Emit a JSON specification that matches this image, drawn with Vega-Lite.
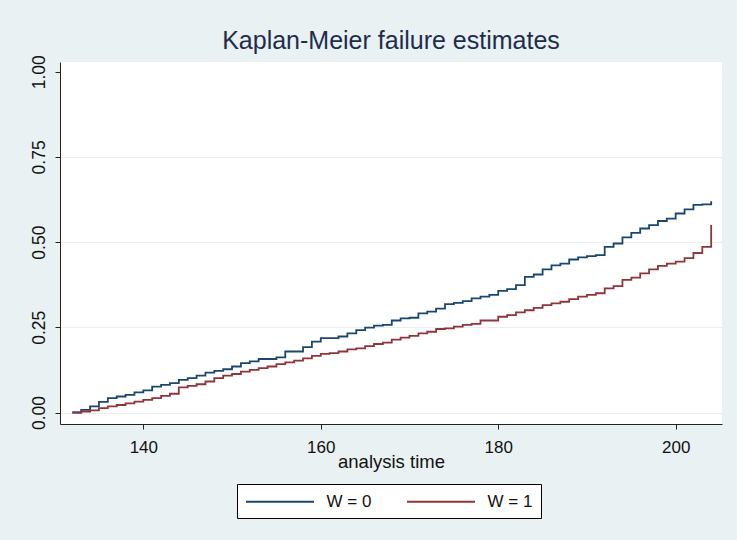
{
  "$schema": "https://vega.github.io/schema/vega-lite/v6.json",
  "width": 662,
  "height": 362,
  "autosize": {"type": "none"},
  "padding": {"left": 60, "top": 62, "right": 15, "bottom": 116},
  "background": "#EAF1F3",
  "title": {"text": "Kaplan-Meier failure estimates", "anchor": "middle", "fontSize": 25, "font": "Liberation Sans", "fontWeight": "normal", "color": "#1E2D4E", "offset": 1},
  "config": {"view": {"fill": "white", "stroke": null}},
  "data": {"values": [
    {"t":132,"g":"W = 0","f":0},{"t":133,"g":"W = 0","f":0.008},{"t":134,"g":"W = 0","f":0.018},{"t":135,"g":"W = 0","f":0.031},{"t":136,"g":"W = 0","f":0.042},{"t":137,"g":"W = 0","f":0.047},{"t":138,"g":"W = 0","f":0.052},{"t":139,"g":"W = 0","f":0.059},{"t":140,"g":"W = 0","f":0.065},{"t":141,"g":"W = 0","f":0.076},{"t":142,"g":"W = 0","f":0.081},{"t":143,"g":"W = 0","f":0.086},{"t":144,"g":"W = 0","f":0.096},{"t":145,"g":"W = 0","f":0.101},{"t":146,"g":"W = 0","f":0.108},{"t":147,"g":"W = 0","f":0.117},{"t":148,"g":"W = 0","f":0.122},{"t":149,"g":"W = 0","f":0.127},{"t":150,"g":"W = 0","f":0.135},{"t":151,"g":"W = 0","f":0.145},{"t":152,"g":"W = 0","f":0.150},{"t":153,"g":"W = 0","f":0.157},{"t":154,"g":"W = 0","f":0.157},{"t":155,"g":"W = 0","f":0.162},{"t":156,"g":"W = 0","f":0.179},{"t":157,"g":"W = 0","f":0.179},{"t":158,"g":"W = 0","f":0.192},{"t":159,"g":"W = 0","f":0.208},{"t":160,"g":"W = 0","f":0.218},{"t":161,"g":"W = 0","f":0.218},{"t":162,"g":"W = 0","f":0.223},{"t":163,"g":"W = 0","f":0.232},{"t":164,"g":"W = 0","f":0.242},{"t":165,"g":"W = 0","f":0.249},{"t":166,"g":"W = 0","f":0.255},{"t":167,"g":"W = 0","f":0.257},{"t":168,"g":"W = 0","f":0.270},{"t":169,"g":"W = 0","f":0.276},{"t":170,"g":"W = 0","f":0.278},{"t":171,"g":"W = 0","f":0.291},{"t":172,"g":"W = 0","f":0.296},{"t":173,"g":"W = 0","f":0.305},{"t":174,"g":"W = 0","f":0.318},{"t":175,"g":"W = 0","f":0.322},{"t":176,"g":"W = 0","f":0.327},{"t":177,"g":"W = 0","f":0.335},{"t":178,"g":"W = 0","f":0.340},{"t":179,"g":"W = 0","f":0.345},{"t":180,"g":"W = 0","f":0.357},{"t":181,"g":"W = 0","f":0.362},{"t":182,"g":"W = 0","f":0.374},{"t":183,"g":"W = 0","f":0.398},{"t":184,"g":"W = 0","f":0.405},{"t":185,"g":"W = 0","f":0.420},{"t":186,"g":"W = 0","f":0.432},{"t":187,"g":"W = 0","f":0.437},{"t":188,"g":"W = 0","f":0.449},{"t":189,"g":"W = 0","f":0.455},{"t":190,"g":"W = 0","f":0.459},{"t":191,"g":"W = 0","f":0.462},{"t":192,"g":"W = 0","f":0.486},{"t":193,"g":"W = 0","f":0.496},{"t":194,"g":"W = 0","f":0.514},{"t":195,"g":"W = 0","f":0.527},{"t":196,"g":"W = 0","f":0.540},{"t":197,"g":"W = 0","f":0.550},{"t":198,"g":"W = 0","f":0.562},{"t":199,"g":"W = 0","f":0.569},{"t":200,"g":"W = 0","f":0.584},{"t":201,"g":"W = 0","f":0.596},{"t":202,"g":"W = 0","f":0.609},{"t":203,"g":"W = 0","f":0.611},{"t":204,"g":"W = 0","f":0.620},
    {"t":132,"g":"W = 1","f":0},{"t":133,"g":"W = 1","f":0.003},{"t":134,"g":"W = 1","f":0.006},{"t":135,"g":"W = 1","f":0.013},{"t":136,"g":"W = 1","f":0.018},{"t":137,"g":"W = 1","f":0.022},{"t":138,"g":"W = 1","f":0.027},{"t":139,"g":"W = 1","f":0.032},{"t":140,"g":"W = 1","f":0.037},{"t":141,"g":"W = 1","f":0.042},{"t":142,"g":"W = 1","f":0.049},{"t":143,"g":"W = 1","f":0.055},{"t":144,"g":"W = 1","f":0.074},{"t":145,"g":"W = 1","f":0.078},{"t":146,"g":"W = 1","f":0.083},{"t":147,"g":"W = 1","f":0.091},{"t":148,"g":"W = 1","f":0.101},{"t":149,"g":"W = 1","f":0.108},{"t":150,"g":"W = 1","f":0.113},{"t":151,"g":"W = 1","f":0.120},{"t":152,"g":"W = 1","f":0.125},{"t":153,"g":"W = 1","f":0.130},{"t":154,"g":"W = 1","f":0.135},{"t":155,"g":"W = 1","f":0.142},{"t":156,"g":"W = 1","f":0.147},{"t":157,"g":"W = 1","f":0.152},{"t":158,"g":"W = 1","f":0.159},{"t":159,"g":"W = 1","f":0.166},{"t":160,"g":"W = 1","f":0.172},{"t":161,"g":"W = 1","f":0.174},{"t":162,"g":"W = 1","f":0.179},{"t":163,"g":"W = 1","f":0.185},{"t":164,"g":"W = 1","f":0.188},{"t":165,"g":"W = 1","f":0.195},{"t":166,"g":"W = 1","f":0.201},{"t":167,"g":"W = 1","f":0.205},{"t":168,"g":"W = 1","f":0.214},{"t":169,"g":"W = 1","f":0.220},{"t":170,"g":"W = 1","f":0.225},{"t":171,"g":"W = 1","f":0.232},{"t":172,"g":"W = 1","f":0.237},{"t":173,"g":"W = 1","f":0.245},{"t":174,"g":"W = 1","f":0.247},{"t":175,"g":"W = 1","f":0.252},{"t":176,"g":"W = 1","f":0.257},{"t":177,"g":"W = 1","f":0.260},{"t":178,"g":"W = 1","f":0.270},{"t":179,"g":"W = 1","f":0.270},{"t":180,"g":"W = 1","f":0.281},{"t":181,"g":"W = 1","f":0.286},{"t":182,"g":"W = 1","f":0.294},{"t":183,"g":"W = 1","f":0.300},{"t":184,"g":"W = 1","f":0.307},{"t":185,"g":"W = 1","f":0.315},{"t":186,"g":"W = 1","f":0.320},{"t":187,"g":"W = 1","f":0.325},{"t":188,"g":"W = 1","f":0.333},{"t":189,"g":"W = 1","f":0.340},{"t":190,"g":"W = 1","f":0.345},{"t":191,"g":"W = 1","f":0.350},{"t":192,"g":"W = 1","f":0.364},{"t":193,"g":"W = 1","f":0.371},{"t":194,"g":"W = 1","f":0.389},{"t":195,"g":"W = 1","f":0.396},{"t":196,"g":"W = 1","f":0.408},{"t":197,"g":"W = 1","f":0.420},{"t":198,"g":"W = 1","f":0.430},{"t":199,"g":"W = 1","f":0.437},{"t":200,"g":"W = 1","f":0.443},{"t":201,"g":"W = 1","f":0.453},{"t":202,"g":"W = 1","f":0.468},{"t":203,"g":"W = 1","f":0.486},{"t":204,"g":"W = 1","f":0.550}
  ]},
  "mark": {"type": "line", "interpolate": "step-after", "strokeWidth": 1.8},
  "encoding": {
    "x": {
      "field": "t", "type": "quantitative",
      "scale": {"domain": [130.61, 205.22], "nice": false, "zero": false},
      "axis": {"values": [140, 160, 180, 200], "title": "analysis time", "grid": false, "domainColor": "#222222", "tickColor": "#222222", "tickSize": 5, "labelFontSize": 17, "labelFont": "Liberation Sans", "labelColor": "#111111", "labelPadding": 10, "labelFlush": false, "titleFontSize": 18.5, "titleFont": "Liberation Sans", "titleFontWeight": "normal", "titleColor": "#111111", "titleY": 43, "titleBaseline": "alphabetic"}
    },
    "y": {
      "field": "f", "type": "quantitative",
      "scale": {"domain": [-0.0337, 1.0285], "nice": false, "zero": false},
      "axis": {"values": [0, 0.25, 0.5, 0.75, 1], "format": ".2f", "title": null, "grid": true, "gridColor": {"condition": {"test": "datum.value === 1", "value": "white"}, "value": "#E8EFF1"}, "domainColor": "#222222", "tickColor": "#222222", "tickSize": 5, "labelAngle": -90, "labelAlign": "center", "labelBaseline": "alphabetic", "labelPadding": 11, "labelFontSize": 17.5, "labelFont": "Liberation Sans", "labelColor": "#111111", "labelFlush": false}
    },
    "color": {
      "field": "g", "type": "nominal",
      "scale": {"domain": ["W = 0", "W = 1"], "range": ["#1A476F", "#90353B"]},
      "legend": {"orient": "none", "legendX": 177, "legendY": 422, "direction": "horizontal", "title": null, "symbolType": "M-4,0H4", "symbolSize": 289, "symbolOffset": 25.5, "symbolStrokeWidth": 1.8, "labelFontSize": 17, "labelFont": "Liberation Sans", "labelColor": "#111111", "labelOffset": 37, "columnPadding": 31, "padding": 8, "strokeColor": "#000000", "fillColor": "#FFFFFF"}
    }
  }
}
